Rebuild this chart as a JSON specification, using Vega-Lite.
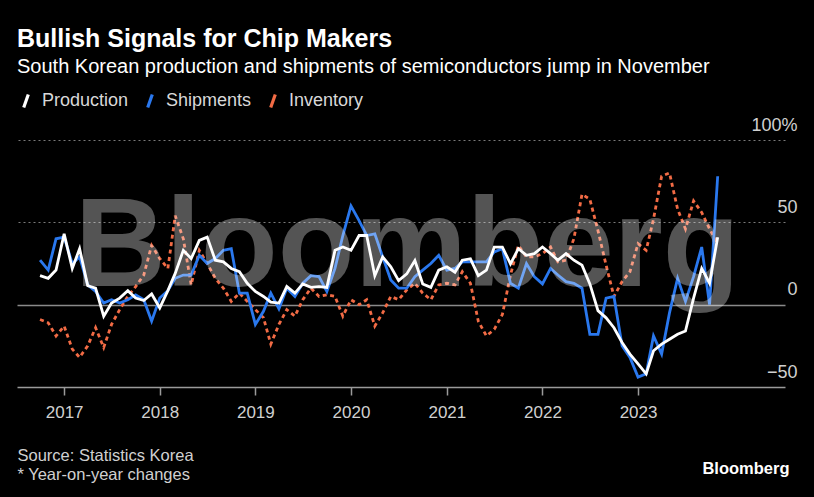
{
  "$schema": "https://vega.github.io/schema/vega-lite/v6.json",
  "width": 768,
  "height": 247,
  "autosize": {"type": "none"},
  "padding": {"left": 17, "top": 140, "right": 29, "bottom": 110},
  "background": "#000000",
  "config": {"view": {"stroke": null}, "font": "Liberation Sans"},
  "title": {
    "text": "Bullish Signals for Chip Makers",
    "subtitle": "South Korean production and shipments of semiconductors jump in November",
    "anchor": "start",
    "frame": "group",
    "color": "#ffffff",
    "fontSize": 25,
    "fontWeight": "bold",
    "subtitleColor": "#ffffff",
    "subtitleFontSize": 20,
    "subtitlePadding": 5,
    "offset": 15
  },
  "layer": [
    {
      "data": {
        "values": [
          {"date": "2016-10-01", "Production": 17.6, "Shipments": 27, "Inventory": -9},
          {"date": "2016-11-01", "Production": 16, "Shipments": 21, "Inventory": -11},
          {"date": "2016-12-01", "Production": 21, "Shipments": 40, "Inventory": -19},
          {"date": "2017-01-01", "Production": 43, "Shipments": 41, "Inventory": -13},
          {"date": "2017-02-01", "Production": 22, "Shipments": 25, "Inventory": -27},
          {"date": "2017-03-01", "Production": 34, "Shipments": 29, "Inventory": -32},
          {"date": "2017-04-01", "Production": 11.5, "Shipments": 12, "Inventory": -25},
          {"date": "2017-05-01", "Production": 10, "Shipments": 8, "Inventory": -14},
          {"date": "2017-06-01", "Production": -7, "Shipments": 1, "Inventory": -26},
          {"date": "2017-07-01", "Production": 1, "Shipments": 3, "Inventory": -12},
          {"date": "2017-08-01", "Production": 4, "Shipments": 1, "Inventory": -3},
          {"date": "2017-09-01", "Production": 8.5, "Shipments": 3, "Inventory": 5},
          {"date": "2017-10-01", "Production": 4, "Shipments": 6, "Inventory": 11},
          {"date": "2017-11-01", "Production": 2.5, "Shipments": 3, "Inventory": 18},
          {"date": "2017-12-01", "Production": 6.5, "Shipments": -10, "Inventory": 36},
          {"date": "2018-01-01", "Production": -2, "Shipments": 4, "Inventory": 28},
          {"date": "2018-02-01", "Production": 8.5, "Shipments": 8.5, "Inventory": 22},
          {"date": "2018-03-01", "Production": 19, "Shipments": 16, "Inventory": 54},
          {"date": "2018-04-01", "Production": 33, "Shipments": 18, "Inventory": 40},
          {"date": "2018-05-01", "Production": 28, "Shipments": 18, "Inventory": 12},
          {"date": "2018-06-01", "Production": 39, "Shipments": 30, "Inventory": 33},
          {"date": "2018-07-01", "Production": 41, "Shipments": 25, "Inventory": 25},
          {"date": "2018-08-01", "Production": 27, "Shipments": 28, "Inventory": 16},
          {"date": "2018-09-01", "Production": 26, "Shipments": 33, "Inventory": 10},
          {"date": "2018-10-01", "Production": 22, "Shipments": 34, "Inventory": 2},
          {"date": "2018-11-01", "Production": 20, "Shipments": 7, "Inventory": 7},
          {"date": "2018-12-01", "Production": 13, "Shipments": 7, "Inventory": 2},
          {"date": "2019-01-01", "Production": 8, "Shipments": -12, "Inventory": -3},
          {"date": "2019-02-01", "Production": 5, "Shipments": -4, "Inventory": -8},
          {"date": "2019-03-01", "Production": 1.5, "Shipments": 7, "Inventory": -24},
          {"date": "2019-04-01", "Production": 1, "Shipments": -2.5, "Inventory": -12},
          {"date": "2019-05-01", "Production": 11, "Shipments": 10, "Inventory": -3},
          {"date": "2019-06-01", "Production": 7, "Shipments": 5, "Inventory": -7},
          {"date": "2019-07-01", "Production": 12.6, "Shipments": 13, "Inventory": 3},
          {"date": "2019-08-01", "Production": 10.5, "Shipments": 17.6, "Inventory": 10},
          {"date": "2019-09-01", "Production": 11, "Shipments": 17, "Inventory": 5},
          {"date": "2019-10-01", "Production": 10.5, "Shipments": 8, "Inventory": 6},
          {"date": "2019-11-01", "Production": 33, "Shipments": 22, "Inventory": 5},
          {"date": "2019-12-01", "Production": 35, "Shipments": 42, "Inventory": -7},
          {"date": "2020-01-01", "Production": 33, "Shipments": 60, "Inventory": 3},
          {"date": "2020-02-01", "Production": 42, "Shipments": 51, "Inventory": 0},
          {"date": "2020-03-01", "Production": 42, "Shipments": 42, "Inventory": 3},
          {"date": "2020-04-01", "Production": 17.6, "Shipments": 43, "Inventory": -13},
          {"date": "2020-05-01", "Production": 29, "Shipments": 29, "Inventory": -5},
          {"date": "2020-06-01", "Production": 23, "Shipments": 15, "Inventory": 5},
          {"date": "2020-07-01", "Production": 14.6, "Shipments": 10, "Inventory": 3},
          {"date": "2020-08-01", "Production": 18.7, "Shipments": 10, "Inventory": 9},
          {"date": "2020-09-01", "Production": 26.8, "Shipments": 17, "Inventory": 13},
          {"date": "2020-10-01", "Production": 12.6, "Shipments": 21, "Inventory": 7},
          {"date": "2020-11-01", "Production": 10.5, "Shipments": 25, "Inventory": 3},
          {"date": "2020-12-01", "Production": 21, "Shipments": 30, "Inventory": 12},
          {"date": "2021-01-01", "Production": 23, "Shipments": 21, "Inventory": 13},
          {"date": "2021-02-01", "Production": 19.7, "Shipments": 22, "Inventory": 12},
          {"date": "2021-03-01", "Production": 27, "Shipments": 26, "Inventory": 20},
          {"date": "2021-04-01", "Production": 27.8, "Shipments": 26, "Inventory": 13},
          {"date": "2021-05-01", "Production": 17.6, "Shipments": 26, "Inventory": -10},
          {"date": "2021-06-01", "Production": 21, "Shipments": 26, "Inventory": -19},
          {"date": "2021-07-01", "Production": 35, "Shipments": 32, "Inventory": -15},
          {"date": "2021-08-01", "Production": 35, "Shipments": 34, "Inventory": -6},
          {"date": "2021-09-01", "Production": 24.8, "Shipments": 13, "Inventory": 18},
          {"date": "2021-10-01", "Production": 34, "Shipments": 10, "Inventory": 36},
          {"date": "2021-11-01", "Production": 30, "Shipments": 25, "Inventory": 29},
          {"date": "2021-12-01", "Production": 31, "Shipments": 17, "Inventory": 29},
          {"date": "2022-01-01", "Production": 35, "Shipments": 12.6, "Inventory": 31},
          {"date": "2022-02-01", "Production": 31, "Shipments": 22, "Inventory": 35},
          {"date": "2022-03-01", "Production": 27, "Shipments": 18, "Inventory": 26},
          {"date": "2022-04-01", "Production": 31, "Shipments": 14, "Inventory": 27},
          {"date": "2022-05-01", "Production": 27, "Shipments": 13, "Inventory": 40},
          {"date": "2022-06-01", "Production": 24, "Shipments": 10, "Inventory": 67},
          {"date": "2022-07-01", "Production": 12.6, "Shipments": -18, "Inventory": 64},
          {"date": "2022-08-01", "Production": -3.6, "Shipments": -18, "Inventory": 45},
          {"date": "2022-09-01", "Production": -8, "Shipments": 4, "Inventory": 24},
          {"date": "2022-10-01", "Production": -14, "Shipments": 5, "Inventory": 5},
          {"date": "2022-11-01", "Production": -23, "Shipments": -25, "Inventory": 14},
          {"date": "2022-12-01", "Production": -30, "Shipments": -32, "Inventory": 20},
          {"date": "2023-01-01", "Production": -36, "Shipments": -44, "Inventory": 37},
          {"date": "2023-02-01", "Production": -42, "Shipments": -42, "Inventory": 33},
          {"date": "2023-03-01", "Production": -28, "Shipments": -19, "Inventory": 52},
          {"date": "2023-04-01", "Production": -24, "Shipments": -30, "Inventory": 78},
          {"date": "2023-05-01", "Production": -21, "Shipments": -5, "Inventory": 80},
          {"date": "2023-06-01", "Production": -18, "Shipments": 16, "Inventory": 58},
          {"date": "2023-07-01", "Production": -16, "Shipments": 2, "Inventory": 46},
          {"date": "2023-08-01", "Production": 4, "Shipments": 17, "Inventory": 63},
          {"date": "2023-09-01", "Production": 22, "Shipments": 35, "Inventory": 56},
          {"date": "2023-10-01", "Production": 13, "Shipments": 0, "Inventory": 46},
          {"date": "2023-11-01", "Production": 41, "Shipments": 78, "Inventory": 37}
        ]
      },
      "transform": [{"fold": ["Production", "Shipments", "Inventory"], "as": ["series", "value"]}],
      "encoding": {
        "x": {
          "field": "date",
          "type": "temporal",
          "scale": {"domain": [{"year": 2016, "month": 7, "date": 5}, {"year": 2024, "month": 7, "date": 15}]},
          "axis": {
            "values": [
              {"year": 2017, "month": 1, "date": 1},
              {"year": 2018, "month": 1, "date": 1},
              {"year": 2019, "month": 1, "date": 1},
              {"year": 2020, "month": 1, "date": 1},
              {"year": 2021, "month": 1, "date": 1},
              {"year": 2022, "month": 1, "date": 1},
              {"year": 2023, "month": 1, "date": 1}
            ],
            "format": "%Y",
            "grid": false,
            "labelColor": "#d0d0d0",
            "labelFontSize": 17,
            "labelPadding": 9,
            "tickSize": 8,
            "tickColor": "#9a9a9a",
            "tickWidth": 1.5,
            "domainColor": "#9a9a9a",
            "domainWidth": 1.5,
            "title": ["Source: Statistics Korea", "* Year-on-year changes"],
            "titleAnchor": "start",
            "titleAlign": "left",
            "titleBaseline": "alphabetic",
            "titleX": 0,
            "titleY": 73,
            "titleFontSize": 16.5,
            "titleFontWeight": "normal",
            "titleColor": "#d0d0d0",
            "titleLineHeight": 19
          }
        },
        "y": {
          "field": "value",
          "type": "quantitative",
          "scale": {"domain": [-50, 100], "nice": false, "zero": false},
          "axis": {
            "orient": "right",
            "values": [-50, 0, 50, 100],
            "labelExpr": "datum.value == 100 ? '100%' : datum.label + '  '",
            "labelAlign": "right",
            "labelBaseline": "alphabetic",
            "labelOffset": -10,
            "labelPadding": 12,
            "ticks": false,
            "tickSize": 0,
            "domain": false,
            "grid": true,
            "gridColor": {"condition": {"test": "datum.value === 0", "value": "#8a8a8a"}, "value": "#7a7a7a"},
            "gridDash": {"condition": {"test": "datum.value === 0", "value": []}, "value": [2, 3]},
            "gridOpacity": {"condition": {"test": "datum.value === -50", "value": 0}, "value": 1},
            "gridWidth": {"condition": {"test": "datum.value === 0", "value": 1.5}, "value": 1},
            "labelColor": "#d0d0d0",
            "labelFontSize": 18,
            "title": "Bloomberg",
            "titleAngle": 0,
            "titleAlign": "right",
            "titleBaseline": "alphabetic",
            "titleX": 4,
            "titleY": 333,
            "titleFontSize": 16.5,
            "titleFontWeight": "bold",
            "titleColor": "#ffffff"
          }
        },
        "stroke": {
          "field": "series",
          "type": "nominal",
          "scale": {"domain": ["Production", "Shipments", "Inventory"], "range": ["#ffffff", "#2a78ee", "#f26b45"]},
          "legend": {
            "orient": "none",
            "legendX": 0,
            "legendY": -48,
            "direction": "horizontal",
            "title": null,
            "labelColor": "#d8d8d8",
            "labelFontSize": 18,
            "symbolType": "M-0.35,1L0.35,-1",
            "symbolSize": 170,
            "symbolStrokeWidth": 3.2,
            "symbolDash": [],
            "columnPadding": 12,
            "labelOffset": 7
          }
        }
      },
      "layer": [
        {
          "transform": [{"filter": "datum.series === 'Inventory'"}],
          "mark": {"type": "line", "strokeWidth": 2.8, "strokeDash": [4, 3.5]}
        },
        {
          "transform": [{"filter": "datum.series === 'Shipments'"}],
          "mark": {"type": "line", "strokeWidth": 2.8}
        },
        {
          "transform": [{"filter": "datum.series === 'Production'"}],
          "mark": {"type": "line", "strokeWidth": 2.8}
        }
      ]
    },
    {
      "data": {"values": [{"label": "Bloomberg", "date": "2020-08-03", "value": 11.6}]},
      "mark": {"type": "text", "font": "Liberation Sans", "fontWeight": "bold", "fontSize": 126, "fill": "#ffffff", "fillOpacity": 0.33, "align": "center", "baseline": "alphabetic"},
      "encoding": {
        "x": {"field": "date", "type": "temporal"},
        "y": {"field": "value", "type": "quantitative"},
        "text": {"field": "label", "type": "nominal"}
      }
    }
  ]
}
